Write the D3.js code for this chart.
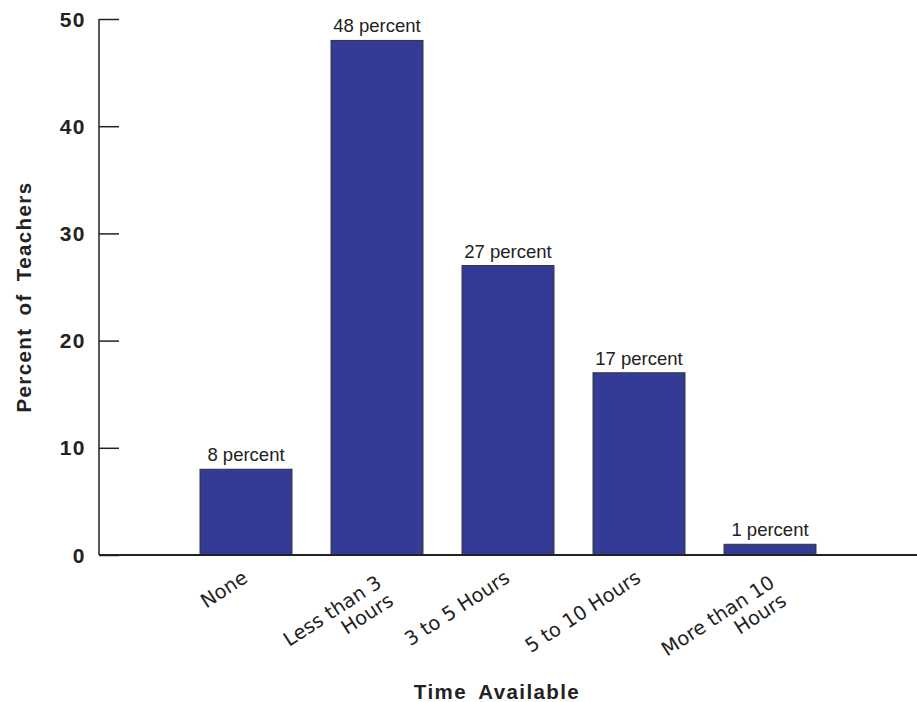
<!DOCTYPE html>
<html>
<head>
<meta charset="utf-8">
<script src="https://cdn.jsdelivr.net/npm/d3@7"></script>
<style>
  html, body { margin: 0; padding: 0; background: #fff; }
  svg { display: block; }
</style>
</head>
<body>
<div id="chart"></div>
<script>
const categories = ["None", "Less than 3 Hours", "3 to 5 Hours", "5 to 10 Hours", "More than 10 Hours"];
const categoryLines = [["None"], ["Less than 3", "Hours"], ["3 to 5 Hours"], ["5 to 10 Hours"], ["More than 10", "Hours"]];
const values = [8, 48, 27, 17, 1];
const valueLabels = ["8 percent", "48 percent", "27 percent", "17 percent", "1 percent"];
const yTicks = [0, 10, 20, 30, 40, 50];

const W = 917, H = 702;
const svg = d3.select("#chart").append("svg").attr("width", W).attr("height", H);

const axisX = 99, baseY = 555, topY = 19;
const y = d3.scaleLinear().domain([0, 50]).range([baseY, topY]);
const x = d3.scaleBand().domain(categories).range([180.5, 835.5]).paddingInner(0.298).paddingOuter(0.149);

const ink = "#222";

// bars
svg.append("g").selectAll("rect").data(values).join("rect")
  .attr("x", (d, i) => x(categories[i]))
  .attr("y", d => y(d))
  .attr("width", x.bandwidth())
  .attr("height", d => y(0) - y(d))
  .attr("fill", "#343b94")
  .attr("stroke", "#333")
  .attr("stroke-width", 1);

// baseline
svg.append("line").attr("x1", axisX).attr("x2", W).attr("y1", baseY).attr("y2", baseY)
  .attr("stroke", ink).attr("stroke-width", 2);

// y axis
const yAxis = d3.axisRight(y).tickValues(yTicks).tickSize(20).tickFormat("");
const ya = svg.append("g").attr("transform", `translate(${axisX},0)`).call(yAxis);
ya.select(".domain").attr("stroke", ink).attr("stroke-width", 1.5).attr("d", `M0,${topY}V${baseY}`);
ya.selectAll(".tick line").attr("stroke", ink).attr("stroke-width", 1.5);

svg.append("g").selectAll("text").data(yTicks).join("text")
  .attr("x", 86).attr("y", d => y(d)).attr("dy", "0.36em")
  .attr("text-anchor", "end")
  .attr("font-family", "Liberation Sans, Arial, sans-serif")
  .attr("font-weight", "bold").attr("font-size", 21).attr("letter-spacing", 1.5)
  .attr("fill", "#222")
  .text(d => d);

// value labels
svg.append("g").selectAll("text").data(values).join("text")
  .attr("x", (d, i) => x(categories[i]) + x.bandwidth() / 2)
  .attr("y", d => y(d) - 8)
  .attr("text-anchor", "middle")
  .attr("font-family", "Liberation Sans, Arial, sans-serif")
  .attr("font-size", 18.5)
  .attr("fill", "#222")
  .text((d, i) => valueLabels[i]);

// x category labels
const angle = -33;
const xl = svg.append("g").selectAll("g").data(categories).join("g")
  .attr("transform", (d, i) => {
    const cx = x(d) + x.bandwidth() / 2;
    const multi = categoryLines[i].length > 1;
    const ox = multi ? 6 : 3;
    const oy = multi ? 31 : 26;
    return `translate(${cx + ox},${baseY + oy}) rotate(${angle})`;
  });
xl.append("text")
  .attr("text-anchor", "end")
  .attr("font-family", "DejaVu Sans, Verdana, sans-serif")
  .attr("font-size", 19.5)
  .attr("fill", "#222")
  .selectAll("tspan").data((d, i) => categoryLines[i]).join("tspan")
  .attr("x", 0).attr("dy", (d, j) => j === 0 ? 0 : "1.1em")
  .text(d => d);

// axis titles
svg.append("text")
  .attr("x", 497).attr("y", 699)
  .attr("text-anchor", "middle")
  .attr("font-family", "Liberation Sans, Arial, sans-serif")
  .attr("font-weight", "bold").attr("font-size", 20.5).attr("letter-spacing", 1.4).attr("word-spacing", 5)
  .attr("fill", "#222")
  .text("Time Available");

svg.append("text")
  .attr("transform", `translate(31,297) rotate(-90)`)
  .attr("text-anchor", "middle")
  .attr("font-family", "Liberation Sans, Arial, sans-serif")
  .attr("font-weight", "bold").attr("font-size", 20.5).attr("letter-spacing", 1.4).attr("word-spacing", 5)
  .attr("fill", "#222")
  .text("Percent of Teachers");
</script>
</body>
</html>
